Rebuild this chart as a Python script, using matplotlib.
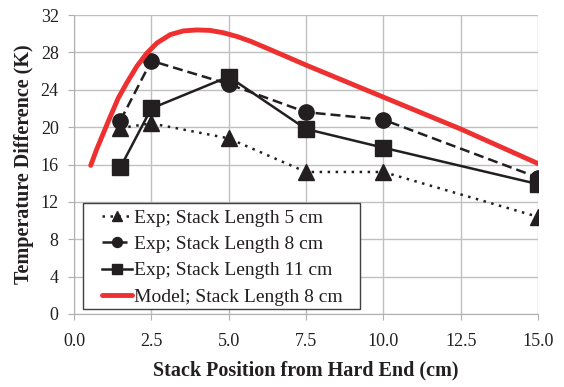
import matplotlib
matplotlib.use("Agg")
import matplotlib.pyplot as plt
from matplotlib.patches import Rectangle

plt.rcParams['font.family'] = ['Liberation Serif', 'DejaVu Serif']

x_exp = [1.5, 2.5, 5.0, 7.5, 10.0, 15.0]
y_5cm = [19.9, 20.4, 18.8, 15.2, 15.2, 10.4]
y_8cm = [20.7, 27.1, 24.6, 21.6, 20.8, 14.6]
y_11cm = [15.7, 22.0, 25.4, 19.8, 17.8, 13.9]

x_model = [0.54, 0.73, 0.95, 1.17, 1.43, 1.70, 2.03, 2.35, 2.68, 3.11, 3.54, 3.97, 4.40,
           4.83, 5.27, 5.70, 6.20, 7.53, 10.01, 12.5, 15.0]
y_model = [15.9, 17.6, 19.35, 21.1, 23.1, 24.7, 26.5, 27.9, 29.0, 29.9, 30.3, 30.4, 30.35,
           30.1, 29.7, 29.2, 28.5, 26.6, 23.2, 19.8, 16.1]

labels = ["Exp; Stack Length 5 cm", "Exp; Stack Length 8 cm",
          "Exp; Stack Length 11 cm", "Model; Stack Length 8 cm"]
xticks = [0.0, 2.5, 5.0, 7.5, 10.0, 12.5, 15.0]
yticks = [0, 4, 8, 12, 16, 20, 24, 28, 32]

fig = plt.figure(figsize=(5.64, 3.87), dpi=100)
ax = fig.add_axes([74/564, 1-314/387, (538-74)/564, (314-15)/387])

dark = '#231f20'
ax.plot(x_exp, y_5cm, linestyle=(0, (1, 2.2)), color=dark, lw=1.8, marker='^', ms=11, label=labels[0], zorder=3)
ax.plot(x_exp, y_8cm, linestyle=(0, (4, 2)), color=dark, lw=1.8, marker='o', ms=11, label=labels[1], zorder=3)
ax.plot(x_exp, y_11cm, linestyle='-', color=dark, lw=1.8, marker='s', ms=11, label=labels[2], zorder=3)
ax.plot(x_model, y_model, color='#ee3030', lw=3.5, label=labels[3], zorder=4,
        solid_capstyle='round', solid_joinstyle='round')

ax.set_xlim(0, 15)
ax.set_ylim(0, 32)
ax.set_xticks(xticks)
ax.set_xticklabels([f"{t:.1f}" for t in xticks])
ax.set_yticks(yticks)
ax.grid(True, color='#c0c0c0', lw=1.0, zorder=0)
ax.set_axisbelow(True)
for s in ['top', 'right']:
    ax.spines[s].set_visible(False)
for s in ['left', 'bottom']:
    ax.spines[s].set_color('#b0b0b0')
ax.tick_params(axis='both', colors='#b0b0b0', labelcolor=dark, labelsize=13, length=4, direction='out')
ax.tick_params(axis='x', pad=10)
ax.tick_params(axis='y', pad=7)

ax.set_xlabel("Stack Position from Hard End (cm)", fontsize=14.5, fontweight='bold', color=dark, labelpad=7)
ax.set_ylabel("Temperature Difference (K)", fontsize=14.5, fontweight='bold', color=dark, labelpad=5)

# legend frame (Excel-like, wider on the right)
frame = Rectangle((9/464, 5/299), 277/464, 106/299, transform=ax.transAxes,
                  facecolor='white', edgecolor='#404040', lw=1.0, zorder=5)
ax.add_patch(frame)
leg = ax.legend(loc='upper left', bbox_to_anchor=((102-74)/464, (314-209)/299), fontsize=14,
                frameon=False, handlelength=1.55, handletextpad=0.1, borderpad=0.0,
                labelspacing=0.45, markerscale=0.65, borderaxespad=0.0)
leg.set_zorder(6)
for t in leg.get_texts():
    t.set_color(dark)

fig.savefig("out.png", dpi=100)
